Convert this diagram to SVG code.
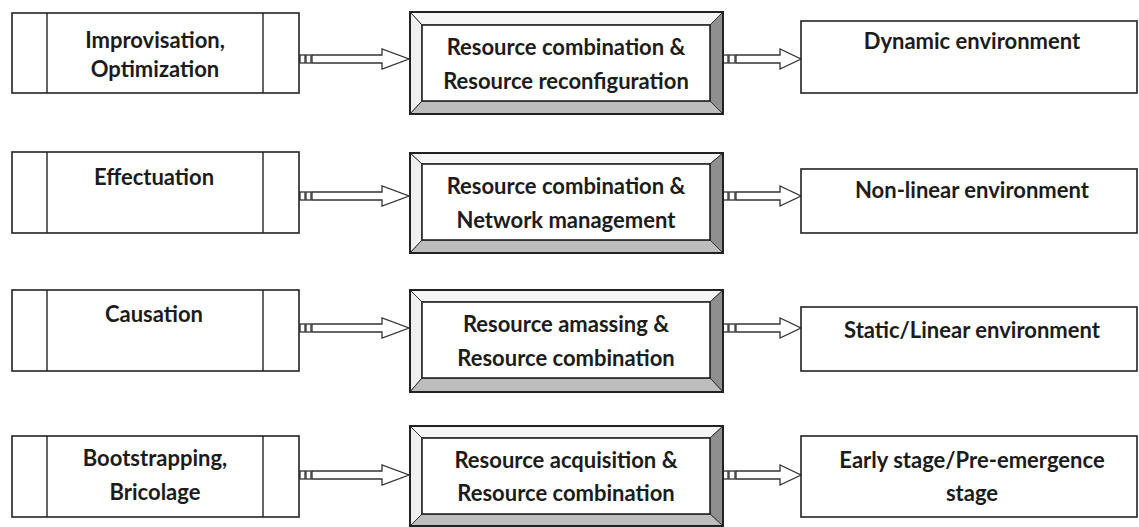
<svg xmlns="http://www.w3.org/2000/svg" width="1139" height="527" viewBox="0 0 1139 527">
<style>
.box{fill:#fff;stroke:#222;stroke-width:1.6}
.ln{stroke:#222;stroke-width:1.4}
.bt{fill:#f6f6f6;stroke:#333;stroke-width:1}
.bl{fill:#f0f0f0;stroke:#333;stroke-width:1}
.br{fill:#8f8f8f;stroke:#333;stroke-width:1}
.bb{fill:#bdbdbd;stroke:#333;stroke-width:1}
.outer{fill:none;stroke:#222;stroke-width:2}
.inner{fill:#fff;stroke:#222;stroke-width:1.6}
.arr{fill:#fff;stroke:#333;stroke-width:1.3;stroke-linejoin:miter}
text{font-family:Lato,"Open Sans","Liberation Sans",sans-serif;font-weight:bold;font-size:22px;fill:#1c1c1c;text-anchor:middle}
</style>
<defs>
<g id="arrowA">
<rect class="arr" x="1" y="-4" width="5" height="8"/>
<rect class="arr" x="7" y="-4" width="5" height="8"/>
<path class="arr" d="M13,-4 H83 V-10 L110,0 L83,10 V4 H13 Z"/>
</g>
<g id="arrowB">
<rect class="arr" x="0" y="-4" width="5" height="8"/>
<rect class="arr" x="6" y="-4" width="6" height="8"/>
<path class="arr" d="M13,-4 H57 V-10 L78,0 L57,10 V4 H13 Z"/>
</g>
</defs>
<rect width="1139" height="527" fill="#fff"/>
<g id="connectors">
<use href="#arrowA" x="299" y="59"/>
<use href="#arrowB" x="723" y="59"/>
<use href="#arrowA" x="299" y="196"/>
<use href="#arrowB" x="723" y="196"/>
<use href="#arrowA" x="299" y="328"/>
<use href="#arrowB" x="723" y="328"/>
<use href="#arrowA" x="299" y="475"/>
<use href="#arrowB" x="723" y="475"/>
</g>

<g id="left1">
<rect class="box" x="12" y="13" width="287" height="80"/>
<line class="ln" x1="47" y1="13" x2="47" y2="93"/><line class="ln" x1="263" y1="13" x2="263" y2="93"/>
<text x="155" y="48">Improvisation,</text><text x="155" y="77">Optimization</text>
</g>
<g id="mid1">
<path class="bt" d="M410,12 H723 L710,25 H422 Z"/>
<path class="bl" d="M410,12 L422,25 V101 L410,114 Z"/>
<path class="br" d="M723,12 V114 L710,101 V25 Z"/>
<path class="bb" d="M410,114 L422,101 H710 L723,114 Z"/>
<rect class="outer" x="410" y="12" width="313" height="102"/>
<rect class="inner" x="422" y="25" width="288" height="76"/>
<text x="566" y="55">Resource combination &amp;</text><text x="566" y="89">Resource reconfiguration</text>
</g>
<g id="right1">
<rect class="box" x="801" y="21" width="336" height="72"/>
<text x="972" y="49">Dynamic environment</text>
</g>

<g id="left2">
<rect class="box" x="12" y="152" width="287" height="81"/>
<line class="ln" x1="47" y1="152" x2="47" y2="233"/><line class="ln" x1="263" y1="152" x2="263" y2="233"/>
<text x="154" y="185">Effectuation</text>
</g>
<g id="mid2">
<path class="bt" d="M410,153 H723 L710,164 H422 Z"/>
<path class="bl" d="M410,153 L422,164 V240 L410,253 Z"/>
<path class="br" d="M723,153 V253 L710,240 V164 Z"/>
<path class="bb" d="M410,253 L422,240 H710 L723,253 Z"/>
<rect class="outer" x="410" y="153" width="313" height="100"/>
<rect class="inner" x="422" y="164" width="288" height="76"/>
<text x="566" y="194">Resource combination &amp;</text><text x="566" y="228">Network management</text>
</g>
<g id="right2">
<rect class="box" x="801" y="169" width="336" height="64"/>
<text x="972" y="198">Non-linear environment</text>
</g>

<g id="left3">
<rect class="box" x="12" y="290" width="287" height="81"/>
<line class="ln" x1="47" y1="290" x2="47" y2="371"/><line class="ln" x1="263" y1="290" x2="263" y2="371"/>
<text x="154" y="322">Causation</text>
</g>
<g id="mid3">
<path class="bt" d="M410,290 H723 L710,302 H422 Z"/>
<path class="bl" d="M410,290 L422,302 V378 L410,392 Z"/>
<path class="br" d="M723,290 V392 L710,378 V302 Z"/>
<path class="bb" d="M410,392 L422,378 H710 L723,392 Z"/>
<rect class="outer" x="410" y="290" width="313" height="102"/>
<rect class="inner" x="422" y="302" width="288" height="76"/>
<text x="566" y="332">Resource amassing &amp;</text><text x="566" y="366">Resource combination</text>
</g>
<g id="right3">
<rect class="box" x="801" y="307" width="336" height="64"/>
<text x="972" y="338">Static/Linear environment</text>
</g>

<g id="left4">
<rect class="box" x="12" y="436" width="287" height="81"/>
<line class="ln" x1="47" y1="436" x2="47" y2="517"/><line class="ln" x1="263" y1="436" x2="263" y2="517"/>
<text x="155" y="466">Bootstrapping,</text><text x="155" y="500">Bricolage</text>
</g>
<g id="mid4">
<path class="bt" d="M410,426 H723 L710,438 H422 Z"/>
<path class="bl" d="M410,426 L422,438 V514 L410,526 Z"/>
<path class="br" d="M723,426 V526 L710,514 V438 Z"/>
<path class="bb" d="M410,526 L422,514 H710 L723,526 Z"/>
<rect class="outer" x="410" y="426" width="313" height="100"/>
<rect class="inner" x="422" y="438" width="288" height="76"/>
<text x="566" y="468">Resource acquisition &amp;</text><text x="566" y="501">Resource combination</text>
</g>
<g id="right4">
<rect class="box" x="801" y="436" width="336" height="81"/>
<text x="972" y="468">Early stage/Pre-emergence</text><text x="972" y="501">stage</text>
</g>
</svg>
